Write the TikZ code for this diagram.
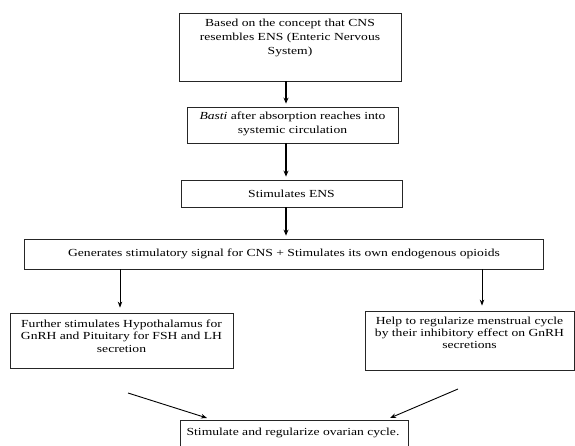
\documentclass[tikz,border=0pt]{standalone}
\usepackage{fontspec}
\setmainfont[FakeStretch=1.26]{Liberation Serif}
\usetikzlibrary{arrows.meta}
\begin{document}
\begin{tikzpicture}[x=1pt,y=-1pt,
  box/.style={draw=black!85, line width=0.8pt, inner sep=0pt},
  txt/.style={align=center, inner sep=0pt, font=\fontsize{10.8}{13.8}\selectfont},
  txtlow/.style={align=center, inner sep=0pt, font=\fontsize{10.8}{12.3}\selectfont},
  arrbig/.style={line width=1.4pt, -{Stealth[length=6pt,width=5pt]}, shorten >=3pt},
  arrsm/.style={line width=0.9pt, -{Stealth[length=6pt,width=4.5pt]}},
]
\useasboundingbox (0,0) rectangle (575,446);
\clip (0,0) rectangle (575,446);
\fill[white] (0,0) rectangle (575,446);

\node[box, minimum width=222pt, minimum height=68pt] (b1) at (290,47) {};
\node[box, minimum width=211pt, minimum height=36pt] (b2) at (292.5,125) {};
\node[box, minimum width=221pt, minimum height=27pt] (b3) at (291.5,193.5) {};
\node[box, minimum width=519pt, minimum height=30pt] (b4) at (283.5,254) {};
\node[box, minimum width=223pt, minimum height=55pt] (b5) at (121.5,340.5) {};
\node[box, minimum width=209pt, minimum height=59pt] (b6) at (469.5,340.5) {};
\node[box, minimum width=228pt, minimum height=34pt] (b7) at (294,437) {};

\node[txt] (t1) at (290,38) {Based on the concept that CNS\\resembles ENS (Enteric Nervous\\System)};
\node[txt] (t2) at (292.5,124) {\textit{Basti} after absorption reaches into\\systemic circulation};
\node[txt] (t3) at (291.5,193.5) {Stimulates ENS};
\node[txt] (t4) at (284,254) {Generates stimulatory signal for CNS + Stimulates its own endogenous opioids};
\node[txtlow] (t5) at (121.5,336) {Further stimulates Hypothalamus for\\GnRH and Pituitary for FSH and LH\\secretion};
\node[txtlow] (t6) at (469.5,333) {Help to regularize menstrual cycle\\by their inhibitory effect on GnRH\\secretions};
\node[txt] (t7) at (293,433) {Stimulate and regularize ovarian cycle.};

\coordinate (xA) at (286,0);
\coordinate (xL) at (120,0);
\coordinate (xR) at (482,0);
\draw[arrbig] (b1.south -| xA) -- (b2.north -| xA);
\draw[arrbig] (b2.south -| xA) -- (b3.north -| xA);
\draw[arrbig] (b3.south -| xA) -- (b4.north -| xA);
\draw[arrsm, shorten >=5pt] (b4.south -| xL) -- (b5.north -| xL);
\draw[arrsm, shorten >=5pt] (b4.south -| xR) -- (b6.north -| xR);

\coordinate (lA) at (128,393);
\coordinate (lB) at (207,418);
\coordinate (rA) at (458,389);
\coordinate (rB) at (390,418);
\draw[arrsm] (lA) -- (lB);
\draw[arrsm] (rA) -- (rB);
\end{tikzpicture}
\end{document}
